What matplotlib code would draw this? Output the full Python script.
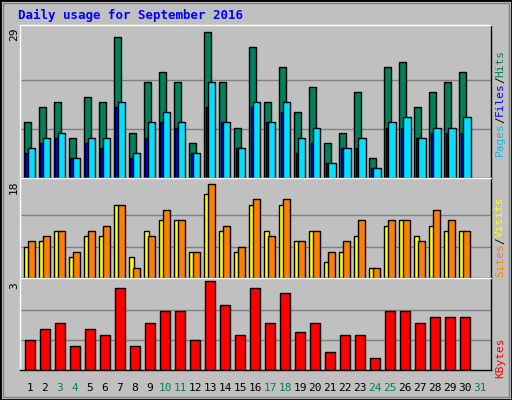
import matplotlib
matplotlib.use("Agg")
import matplotlib.pyplot as plt
from matplotlib.patches import Rectangle

days = list(range(1, 31))
all_days = list(range(1, 32))
weekend = [3, 4, 10, 11, 17, 18, 24, 25, 31]
hits = [11,14,15,8,16,15,28,9,19,21,19,7,29,19,10,26,15,22,13,18,7,9,17,4,22,23,14,17,19,21]
files = [6,8,9,4,8,8,15,5,11,13,11,5,19,11,6,15,11,15,8,10,3,6,8,2,11,12,8,10,10,12]
pages = [5,7,8,4,7,6,14,4,8,11,10,5,14,11,6,14,11,13,5,7,3,6,6,2,10,10,8,9,9,9]
visits = [7,8,9,5,9,10,14,2,8,13,11,5,18,10,6,15,8,15,7,9,5,7,11,2,11,11,7,13,11,9]
sites = [6,7,9,4,8,8,14,4,9,11,11,5,16,9,5,14,9,14,7,9,3,5,8,2,10,11,8,10,9,9]
kbytes = [1.0,1.39,1.59,0.8,1.39,1.19,2.77,0.8,1.59,1.98,1.98,1.0,3.0,2.18,1.19,2.77,1.59,2.57,1.26,1.59,0.6,1.19,1.19,0.4,1.98,1.98,1.59,1.78,1.78,1.78]

W, H = 512, 400
fig = plt.figure(figsize=(W/100, H/100), dpi=100, facecolor="#c0c0c0")
fig.patches.append(Rectangle((0, 0), 1, 1, transform=fig.transFigure, fill=False, edgecolor="black", lw=2))
fig.patches.append(Rectangle((3/W, 3/H), 1-6/W, 1-6/H, transform=fig.transFigure, fill=False, edgecolor="#808080", lw=1))

def ax_at(y0, y1):
    a = fig.add_axes([20/W, 1-y1/H, 471/W, (y1-y0)/H])
    a.set_facecolor("#c0c0c0")
    a.set_xlim(-0.18, 31.2)
    a.set_xticks([]); a.set_yticks([])
    for s in a.spines.values():
        s.set_color("black"); s.set_linewidth(1)
    a.spines['top'].set_color("white"); a.spines['left'].set_color("white")
    return a

mono = "DejaVu Sans Mono"
x = [d - 1 for d in days]

a1 = ax_at(25, 178)
m1 = 29
a1.set_ylim(0, m1 * 1.045)
for f in (1/3, 2/3):
    a1.axhline(m1*f, color="#808080", lw=1, zorder=0)
a1.bar([i+0.07 for i in x], hits, width=0.48, align="edge", color="#00805c", edgecolor="black", lw=1, zorder=2)
a1.bar([i+0.18 for i in x], pages, width=0.22, align="edge", color="#0000ff", edgecolor="black", lw=1, zorder=3)
a1.bar([i+0.36 for i in x], files, width=0.48, align="edge", color="#00e0ff", edgecolor="black", lw=1, zorder=4)

a2 = ax_at(178, 278)
m2 = 18
a2.set_ylim(0, m2 * 1.06)
for f in (1/3, 2/3):
    a2.axhline(m2*f, color="#808080", lw=1, zorder=0)
a2.bar([i+0.07 for i in x], sites, width=0.33, align="edge", color="#ffff00", edgecolor="black", lw=1, zorder=2)
a2.bar([i+0.35 for i in x], visits, width=0.48, align="edge", color="#ff8000", edgecolor="black", lw=1, zorder=3)

a3 = ax_at(278, 370)
m3 = 3
a3.set_ylim(0, m3 * 1.03)
for f in (1/3, 2/3):
    a3.axhline(m3*f, color="#808080", lw=1, zorder=0)
a3.bar([i+0.13 for i in x], kbytes, width=0.7, align="edge", color="#ff0000", edgecolor="black", lw=1, zorder=2)

fig.text(18/W, 1-15/H, "Daily usage for September 2016", color="#0000ff", fontsize=9,
         fontweight="bold", family=mono, va="center", ha="left")
for lbl, yy in (("29", 34), ("18", 187), ("3", 286)):
    fig.text(14/W, 1-yy/H, lbl, rotation=90, fontsize=8, family=mono, ha="center", va="center")

for d in all_days:
    col = "#00805c" if d in weekend else "black"
    xp = 20 + (d - 1 + 0.18 + 0.48) * 471 / 31.38
    fig.text(xp/W, 1-388/H, str(d), color=col, fontsize=8, family=mono, ha="center", va="center")

def vlabel(parts, ybot):
    y = ybot
    for txt, col in parts:
        t = fig.text(500/W, 1-y/H, txt, rotation=90, color=col, fontsize=8, family=mono, ha="center", va="bottom")
        y -= len(txt) * 6.6

vlabel([("Pages", "#00c0e0"), ("/", "black"), ("Files", "#0000ff"), ("/", "black"), ("Hits", "#00805c")], 156)
vlabel([("Sites", "#ff8000"), ("/", "black"), ("Visits", "#ffff00")], 277)
vlabel([("KBytes", "#ff0000")], 378)

fig.savefig("out.png", dpi=100, facecolor=fig.get_facecolor())
